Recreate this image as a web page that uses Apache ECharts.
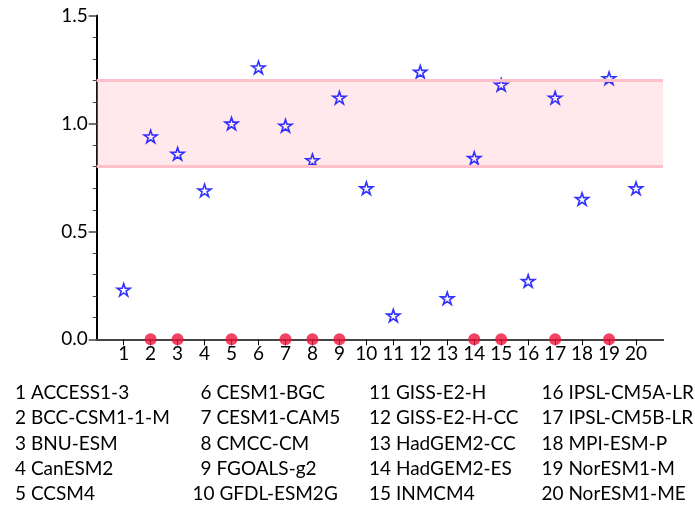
<!DOCTYPE html>
<html>
<head>
<meta charset="utf-8">
<script src="https://cdn.jsdelivr.net/npm/echarts@6/dist/echarts.min.js"></script>
<style>
html, body { margin: 0; padding: 0; background: #fff; }
#chart { width: 695px; height: 507px; }
</style>
</head>
<body>
<div id="chart"></div>
<script>
// 模式名称
var models = ['ACCESS1-3', 'BCC-CSM1-1-M', 'BNU-ESM', 'CanESM2', 'CCSM4',
    'CESM1-BGC', 'CESM1-CAM5', 'CMCC-CM', 'FGOALS-g2', 'GFDL-ESM2G',
    'GISS-E2-H', 'GISS-E2-H-CC', 'HadGEM2-CC', 'HadGEM2-ES', 'INMCM4',
    'IPSL-CM5A-LR', 'IPSL-CM5B-LR', 'MPI-ESM-P', 'NorESM1-M', 'NorESM1-ME'];
var modelNo = [1, 2, 3, 4, 5, 6, 7, 8, 9, 10, 11, 12, 13, 14, 15, 16, 17, 18, 19, 20];
var starValues = [0.23, 0.94, 0.86, 0.69, 1.00, 1.26, 0.99, 0.83, 1.12, 0.70,
    0.11, 1.24, 0.19, 0.84, 1.18, 0.27, 1.12, 0.65, 1.21, 0.70];
var dotModels = [2, 3, 5, 7, 8, 9, 14, 15, 17, 19];
var dotValues = [0, 0, 0, 0, 0, 0, 0, 0, 0, 0];
var bandLow = 0.8;
var bandHigh = 1.2;
var yTicks = [0, 0.5, 1.0, 1.5];

var STAR = 'path://M50 0 L61.23 34.55 L97.55 34.55 L68.16 55.9 L79.39 90.45 L50 69.1 L20.61 90.45 L31.84 55.9 L2.45 34.55 L38.77 34.55 Z';
var FONT = 'Lato, "Open Sans", sans-serif';

buildChart();

function buildLegend() {
    var colX = [15, 200.5, 369, 541.5];
    var rowY = [392.5, 418, 443.5, 469, 494];
    var items = [];
    for (var i = 0; i < models.length; i++) {
        var c = Math.floor(i / 5);
        var r = i % 5;
        var shift = (String(modelNo[i]).length - String(modelNo[c * 5]).length) * 8;
        items.push({
            type: 'text',
            x: colX[c] - shift,
            y: rowY[r],
            style: {
                text: modelNo[i] + ' ' + models[i],
                font: '19px ' + FONT,
                fill: '#000',
                verticalAlign: 'middle'
            }
        });
    }
    return items;
}

function buildChart() {
    var starData = [];
    for (var i = 0; i < modelNo.length; i++) {
        starData.push([modelNo[i], starValues[i]]);
    }
    var dotData = [];
    for (var j = 0; j < dotModels.length; j++) {
        dotData.push([dotModels[j], dotValues[j]]);
    }
    var option = {
        animation: false,
        grid: {
            left: 96.7,
            right: 32,
            top: 15.7,
            bottom: 167.7
        },
        xAxis: [{
            type: 'value',
            min: 0,
            max: 21,
            interval: 1,
            axisLine: { lineStyle: { color: '#000', width: 2 } },
            axisTick: {
                length: 6,
                customValues: modelNo,
                lineStyle: { color: '#000', width: 1 }
            },
            axisLabel: {
                customValues: modelNo,
                margin: 5,
                color: '#000',
                fontSize: 19,
                fontFamily: FONT
            },
            splitLine: { show: false }
        }, {
            type: 'value',
            position: 'top',
            min: 0,
            max: 21,
            axisLine: { show: true, lineStyle: { color: '#444', width: 2 } },
            axisTick: { show: false },
            axisLabel: { show: false },
            splitLine: { show: false }
        }],
        yAxis: [{
            type: 'value',
            min: 0,
            max: 1.5,
            interval: 0.5,
            axisLine: { show: true, lineStyle: { color: '#444', width: 2 } },
            axisTick: {
                show: true,
                length: 8,
                customValues: yTicks,
                lineStyle: { color: '#444', width: 1.5 }
            },
            minorTick: {
                show: true,
                splitNumber: 5,
                length: 4,
                lineStyle: { color: '#444', width: 1 }
            },
            axisLabel: {
                margin: 9,
                color: '#000',
                fontSize: 19,
                fontFamily: FONT,
                formatter: function (v) { return v.toFixed(1); }
            },
            splitLine: { show: false }
        }, {
            type: 'value',
            position: 'right',
            min: 0,
            max: 1.5,
            axisLine: { show: true, lineStyle: { color: '#000', width: 2 } },
            axisTick: { show: false },
            axisLabel: { show: false },
            splitLine: { show: false }
        }],
        series: [{
            type: 'scatter',
            name: 'stars',
            data: starData,
            symbol: STAR,
            symbolKeepAspect: true,
            symbolSize: 13,
            z: 3,
            itemStyle: {
                color: 'rgba(0,0,0,0)',
                borderColor: '#0000ff',
                borderWidth: 1.6
            }
        }, {
            // 粉色区间，盖在星号上面
            type: 'scatter',
            name: 'band',
            data: [],
            z: 4,
            markArea: {
                silent: true,
                itemStyle: { color: 'rgba(255,192,203,0.35)', borderWidth: 0 },
                data: [[{ yAxis: bandLow }, { yAxis: bandHigh }]]
            },
            markLine: {
                silent: true,
                symbol: 'none',
                label: { show: false },
                lineStyle: { color: '#ffc0cb', width: 3, type: 'solid' },
                data: [{ yAxis: bandLow }, { yAxis: bandHigh }]
            }
        }, {
            type: 'scatter',
            name: 'dots',
            data: dotData,
            symbol: 'circle',
            symbolSize: 12,
            z: 6,
            itemStyle: { color: '#f0143c' }
        }],
        graphic: buildLegend()
    };
    var chart = echarts.init(document.getElementById('chart'));
    chart.setOption(option, true);
}
</script>
</body>
</html>
